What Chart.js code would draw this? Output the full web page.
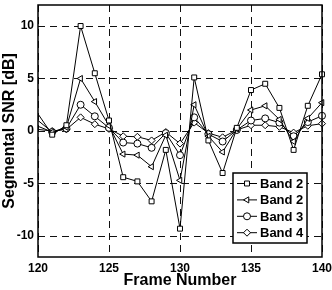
<!DOCTYPE html>
<html>
<head>
<meta charset="utf-8">
<script src="https://cdn.jsdelivr.net/npm/chart.js@4/dist/chart.umd.min.js"></script>
<style>
  html, body { margin: 0; padding: 0; background: #fff; }
  #wrap { width: 332px; height: 290px; }
</style>
</head>
<body>
<div id="wrap"><canvas id="snrChart" width="332" height="290"></canvas></div>
<script>
// frame 120 has no marker in the source; the lines enter from frame 119
const frames = [119, 121, 122, 123, 124, 125, 126, 127, 128, 129, 130, 131, 132, 133, 134, 135, 136, 137, 138, 139, 140];

const band2Sq  = [3.6, -0.35, 0.55, 10.0, 5.5, 1.0, -4.4, -4.8, -6.7, -1.8, -9.3, 5.1, -0.9, -4.0, 0.3, 3.9, 4.5, 2.2, -1.8, 2.4, 5.4];
const band2Tri = [2.1, -0.1, 0.35, 5.0, 2.8, 0.5, -2.2, -2.3, -3.4, -0.4, -4.7, 2.5, -0.5, -2.0, 0.2, 2.0, 2.4, 1.1, -1.0, 1.2, 2.7];
const band3    = [1.0, -0.1, 0.25, 2.5, 1.4, 0.3, -1.1, -1.2, -1.6, -0.2, -2.3, 1.3, -0.3, -1.0, 0.1, 1.0, 1.2, 0.8, -0.5, 0.85, 1.45];
const band4    = [0.3, 0.0, 0.15, 1.3, 0.65, 0.2, -0.5, -0.55, -0.9, -0.1, -1.2, 0.8, -0.2, -0.6, 0.1, 0.55, 0.55, 0.4, -0.15, 0.5, 0.7];

const seriesNames = ['Band 2', 'Band 2', 'Band 3', 'Band 4'];
const xTicks = [120, 125, 130, 135, 140];
const yTicks = [-10, -5, 0, 5, 10];

const FONT = '"Liberation Sans", Arial, sans-serif';

function mkSet(label, vals, style, rot) {
    return {
        label: label,
        data: frames.map((f, i) => ({ x: f, y: vals[i] })),
        borderColor: '#000',
        borderWidth: 1,
        backgroundColor: '#fff',
        pointStyle: style,
        pointRotation: rot || 0,
        pointRadius: 3.5,
        pointBorderWidth: 1,
        pointBorderColor: '#000',
        pointBackgroundColor: '#fff',
        tension: 0,
        clip: { left: 0, top: 6, right: 6, bottom: 6 }
    };
}

// box around the plot area + legend inside it
const framePlugin = {
    id: 'frame',
    afterDraw(chart) {
        const { ctx, chartArea: a } = chart;
        ctx.save();
        ctx.strokeStyle = '#000';
        ctx.lineWidth = 1.5;
        ctx.strokeRect(a.left, a.top, a.right - a.left, a.bottom - a.top);

        // legend
        const lx = 233, ly = 173, lw = 74, lh = 70;
        ctx.fillStyle = '#fff';
        ctx.fillRect(lx, ly, lw, lh);
        ctx.lineWidth = 1.5;
        ctx.strokeRect(lx, ly, lw, lh);
        ctx.font = 'bold 13px ' + FONT;
        ctx.textBaseline = 'middle';
        chart.data.datasets.forEach((ds, i) => {
            const y = 183.5 + i * 16.4;
            ctx.lineWidth = 1;
            ctx.strokeStyle = '#000';
            ctx.beginPath();
            ctx.moveTo(237, y);
            ctx.lineTo(257, y);
            ctx.stroke();
            ctx.fillStyle = '#fff';
            Chart.helpers.drawPoint(ctx, {
                pointStyle: ds.pointStyle, rotation: ds.pointRotation,
                radius: 3.5, borderWidth: 1
            }, 247, y);
            ctx.fillStyle = '#000';
            ctx.fillText(ds.label, 260, y + 1);
        });
        ctx.restore();
    }
};

new Chart(document.getElementById('snrChart'), {
    type: 'line',
    data: {
        datasets: [
            mkSet(seriesNames[0], band2Sq, 'rect'),
            mkSet(seriesNames[1], band2Tri, 'triangle', -90),
            mkSet(seriesNames[2], band3, 'circle'),
            mkSet(seriesNames[3], band4, 'rectRot')
        ]
    },
    options: {
        responsive: false,
        animation: false,
        layout: { padding: { top: 4, right: 10, left: 0, bottom: 0 } },
        plugins: { legend: { display: false }, tooltip: { enabled: false } },
        scales: {
            x: {
                type: 'linear',
                min: 120, max: 140,
                afterBuildTicks: s => { s.ticks = xTicks.map(v => ({ value: v })); },
                afterFit: s => { s.height = 33; s.paddingLeft = 0; s.paddingRight = 0; },
                grid: { color: '#111', lineWidth: 1, drawTicks: false },
                border: { display: false, dash: [7, 5] },
                ticks: { color: '#000', padding: 4, font: { family: FONT, size: 12, weight: 'bold' } },
                title: {
                    display: true, text: 'Frame Number', color: '#000',
                    padding: { top: 0, bottom: 0 },
                    font: { family: FONT, size: 16, weight: 'bold' }
                }
            },
            y: {
                min: -12, max: 12,
                afterBuildTicks: s => { s.ticks = yTicks.map(v => ({ value: v })); },
                afterFit: s => { s.width = 38; s.paddingTop = 0; s.paddingBottom = 0; },
                grid: { color: '#111', lineWidth: 1, drawTicks: false },
                border: { display: false, dash: [7, 5] },
                ticks: { color: '#000', padding: 4, font: { family: FONT, size: 12, weight: 'bold' } },
                title: {
                    display: true, text: 'Segmental SNR [dB]', color: '#000',
                    padding: { top: 0, bottom: 0 },
                    font: { family: FONT, size: 16, weight: 'bold' }
                }
            }
        }
    },
    plugins: [framePlugin]
});
</script>
</body>
</html>
